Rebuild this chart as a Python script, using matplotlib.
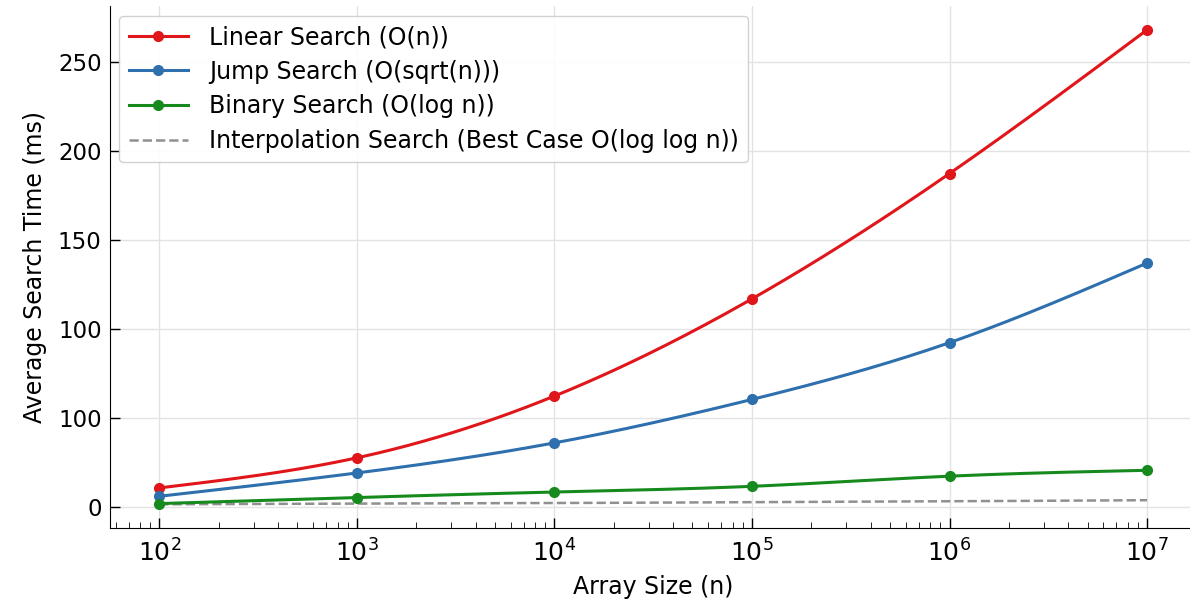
import numpy as np
import matplotlib
matplotlib.use("Agg")
import matplotlib.pyplot as plt

# ---------------------- data
sizes = [1e2, 1e3, 1e4, 1e5, 1e6, 1e7]
linear_ms = [10.7, 27.6, 62.3, 116.9, 187.3, 268.0]
jump_ms = [6.0, 19.1, 36.0, 60.4, 92.3, 137.0]
binary_ms = [1.9, 5.3, 8.4, 11.6, 17.3, 20.6]
interp_ms = [1.5, 1.9, 2.2, 2.7, 3.2, 3.8]
ytick_vals = [0, 50, 100, 150, 200, 250]
ytick_labels = ['0', '100', '100', '150', '200', '250']


def smooth(xs, ys, n=200):
    # natural cubic spline through the points, in log10(x)
    t = np.log10(xs)
    y = np.asarray(ys, float)
    k = len(t)
    h = np.diff(t)
    A = np.zeros((k, k))
    b = np.zeros(k)
    A[0, 0] = A[-1, -1] = 1
    for i in range(1, k - 1):
        A[i, i - 1] = h[i - 1]
        A[i, i] = 2 * (h[i - 1] + h[i])
        A[i, i + 1] = h[i]
        b[i] = 3 * ((y[i + 1] - y[i]) / h[i] - (y[i] - y[i - 1]) / h[i - 1])
    c = np.linalg.solve(A, b)
    tt = np.linspace(t[0], t[-1], n)
    out = np.empty_like(tt)
    for j, v in enumerate(tt):
        i = min(np.searchsorted(t, v, side='right') - 1, k - 2)
        d = v - t[i]
        bi = (y[i + 1] - y[i]) / h[i] - h[i] * (2 * c[i] + c[i + 1]) / 3
        di = (c[i + 1] - c[i]) / (3 * h[i])
        out[j] = y[i] + bi * d + c[i] * d ** 2 + di * d ** 3
    return 10 ** tt, out


fig = plt.figure(figsize=(11.9, 6.04), dpi=100)
ax = fig.add_axes([0.0924, 0.1258, 0.913, 0.864])

series = [
    (linear_ms, '#e0161b', 'Linear Search (O(n))'),
    (jump_ms, '#2e6fae', 'Jump Search (O(sqrt(n)))'),
    (binary_ms, '#178a1e', 'Binary Search (O(log n))'),
]
for ys, col, lab in series:
    sx, sy = smooth(sizes, ys)
    ax.plot(sx, sy, color=col, lw=2.2, zorder=3)
    ax.plot(sizes, ys, 'o', color=col, ms=7, zorder=4)
    ax.plot([], [], '-o', color=col, lw=2.2, ms=7, label=lab)

sx, sy = smooth(sizes, interp_ms)
ax.plot(sx, sy, '--', color='#909090', lw=1.8,
        label='Interpolation Search (Best Case O(log log n))')

ax.set_xscale('log')
ax.set_yticks(ytick_vals)
ax.set_yticklabels(ytick_labels)
ax.tick_params(which='both', direction='in', labelsize=16.5)
ax.tick_params(which='major', length=7, width=1)
ax.tick_params(which='minor', length=4)
ax.tick_params(axis='y', pad=6)
ax.tick_params(axis='x', labelsize=18, pad=8)
for s in ['top', 'right']:
    ax.spines[s].set_visible(False)
ax.grid(True, color='#e3e3e3', lw=1)
ax.set_axisbelow(True)

ax.set_xlabel('Array Size (n)', fontsize=17, labelpad=6)
ax.set_ylabel('Average Search Time (ms)', fontsize=17, labelpad=8)
ax.legend(loc='upper left', fontsize=17, handlelength=2.5,
          handletextpad=0.9, borderaxespad=0.4, labelspacing=0.45,
          framealpha=0.9)

fig.savefig('out.png', dpi=100)
